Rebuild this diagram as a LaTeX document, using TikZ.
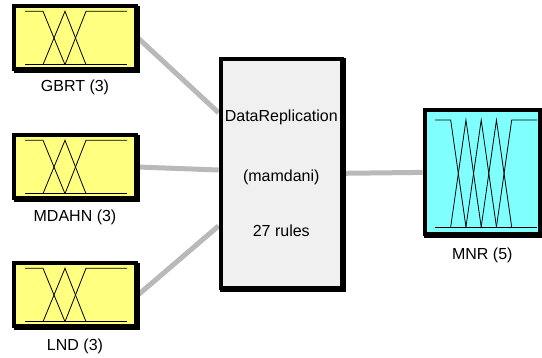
\documentclass[tikz,border=0pt]{standalone}
\usepackage{fontspec}
\setmainfont{Liberation Sans}
\usepackage{xcolor}
\usepackage{tikz}
\usetikzlibrary{positioning,calc,shadows,backgrounds}

\definecolor{inYellow}{RGB}{255,255,128}
\definecolor{outCyan}{RGB}{128,255,255}
\definecolor{fisGray}{RGB}{240,240,240}
\definecolor{linkGray}{RGB}{185,185,185}

% membership functions of a 3-term input, drawn round the node centre
\newcommand{\inputMFs}[1]{%
    \begin{scope}[shift={(#1.center)}, mfLine]
        \draw (-50,-26.7) -- (-32,-26.7) -- (-10,26.7);
        \draw (-32,26.7) -- (-10,-26.7) -- (11,26.7);
        \draw (-10,26.7) -- (11,-26.7) -- (52,-26.7);
        \draw (-50,26.7) -- (52,26.7);
    \end{scope}}

\begin{document}
\begin{tikzpicture}[
    x=1pt, y=-1pt,
    font=\fontsize{16}{19}\selectfont,
    varBox/.style={
        rectangle, draw=black, line width=4pt, inner sep=0pt,
        copy shadow={shadow xshift=1.5pt, shadow yshift=-1.5pt}
    },
    inVar/.style={varBox, fill=inYellow, minimum width=122pt, minimum height=63pt},
    outVar/.style={varBox, fill=outCyan, minimum width=115.5pt, minimum height=124pt},
    fisBox/.style={varBox, fill=fisGray, minimum width=121.5pt, minimum height=229.5pt, align=center},
    varLabel/.style={inner sep=0pt},
    mfLine/.style={line width=0.8pt, draw=black},
    linkLine/.style={line width=5pt, draw=linkGray}
]
\useasboundingbox (0,0) rectangle (542,358);

% Inputs
\node[inVar] (gbrt) at (75,38) {};
\node[inVar] (mdahn) at (75,167) {};
\node[inVar] (lnd) at (75,295) {};

\node[varLabel, below=8.5pt of gbrt] (gbrtLabel) {GBRT (3)};
\node[varLabel, below=9pt of mdahn] (mdahnLabel) {MDAHN (3)};
\node[varLabel, below=10pt of lnd] (lndLabel) {LND (3)};

\inputMFs{gbrt}
\inputMFs{mdahn}
\inputMFs{lnd}

% Rule block
\node[fisBox] (rules) at (281.3,173.3) {DataReplication\\[41pt](mamdani)\\[36pt]27 rules};

% Output
\node[outVar] (mnr) at (482.3,172.4) {};
\node[varLabel, below=11.5pt of mnr] (mnrLabel) {MNR (5)};

\begin{scope}[shift={(mnr.center)}, mfLine]
    \draw (-47.3,-52.4) -- (-31.6,-52.4) -- (-16.35,54.6);
    \foreach \p in {-31.6,-16.35,-1.1}
        \draw (\p,54.6) -- ({\p+15.25},-52.4) -- ({\p+30.5},54.6);
    \draw (14.15,54.6) -- (29.4,-52.4) -- (54.7,-52.4);
    \draw (-47.3,54.6) -- (54.7,54.6);
\end{scope}

% Links
\begin{scope}[on background layer]
    \draw[linkLine] (gbrt.east) -- (rules.136);
    \draw[linkLine] (mdahn.east) -- (rules.177);
    \draw[linkLine] (lnd.east) -- (rules.220);
    \draw[linkLine] (rules.east) -- (mnr.west);
\end{scope}

\end{tikzpicture}
\end{document}
